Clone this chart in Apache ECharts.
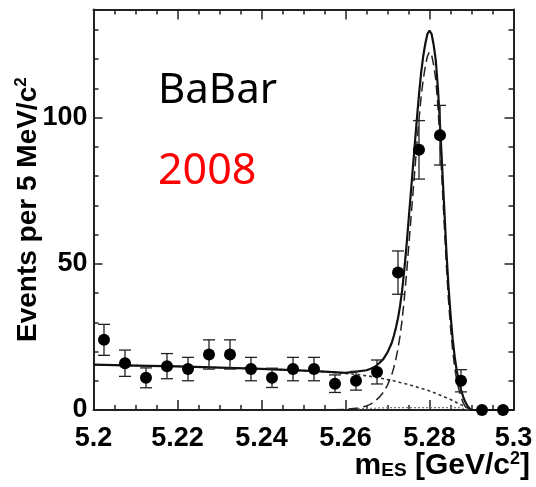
<!DOCTYPE html>
<html>
<head>
<meta charset="utf-8">
<script src="https://cdn.jsdelivr.net/npm/echarts@6/dist/echarts.min.js"></script>
<style>
html,body{margin:0;padding:0;background:#fff;}
#chart{width:536px;height:487px;}
</style>
</head>
<body>
<div id="chart"></div>
<script>
// ---- data ----
const binCenters = [5.2025, 5.2075, 5.2125, 5.2175, 5.2225, 5.2275, 5.2325, 5.2375, 5.2425, 5.2475,
                    5.2525, 5.2575, 5.2625, 5.2675, 5.2725, 5.2775, 5.2825, 5.2875, 5.2925, 5.2975];
const events = [24, 16, 11, 15, 14, 19, 19, 14, 11, 14, 14, 9, 10, 13, 47, 89, 94, 10, 0, 0];
const errors = [5.3, 4.5, 3.4, 4.3, 4, 5, 5, 4, 3.3, 4, 4, 3, 3.2, 4.1, 7.4, 10, 10.2, 3.8, 0, 0];

const fitX = [5.2, 5.21, 5.22, 5.23, 5.24, 5.25, 5.255, 5.26, 5.263, 5.265, 5.266, 5.267, 5.268, 5.269, 5.27,
              5.271, 5.2715, 5.272, 5.2725, 5.273, 5.2735, 5.274, 5.2745, 5.275, 5.2755, 5.276, 5.2765, 5.277,
              5.2775, 5.278, 5.2785, 5.279, 5.2795, 5.28, 5.2805, 5.281, 5.2815, 5.282, 5.2825, 5.283, 5.2835,
              5.284, 5.2845, 5.285, 5.2855, 5.286, 5.2865, 5.287, 5.2875, 5.288, 5.2885, 5.289, 5.2895, 5.29, 5.3];
const signalY = [0, 0, 0, 0, 0, 0, 0, 0.2, 0.7, 1.4, 2, 3, 4.3, 6, 8.5,
                 12, 14.5, 17.5, 21, 25.5, 31, 38, 46, 55, 64, 73, 82, 91,
                 99.5, 107, 113, 117.5, 121, 122.5, 121.5, 118, 113, 104, 92, 78, 64,
                 50, 38, 28.5, 20.5, 14.5, 10, 7, 4.5, 2.5, 1.2, 0.5, 0.2, 0, 0];
const backgroundY = [15.5, 15.2, 14.9, 14.5, 14.1, 13.5, 13.1, 12.5, 12.1, 11.7, 11.5, 11.2, 11, 10.7, 10.4,
                     10.1, 10, 9.8, 9.6, 9.4, 9.3, 9.1, 8.9, 8.7, 8.5, 8.3, 8.1, 7.9,
                     7.6, 7.4, 7.2, 7, 6.8, 6.5, 6.3, 6, 5.7, 5.4, 5.1, 4.8, 4.5,
                     4.2, 3.9, 3.6, 3.2, 2.9, 2.5, 2.2, 1.8, 1.5, 1.1, 0.7, 0.3, 0, 0];
const peakingY = [0, 0, 0, 0, 0, 0, 0, 0, 0.4, 0.5, 0.6, 0.6, 0.7, 0.7, 0.8,
                  0.8, 0.8, 0.8, 0.8, 0.8, 0.8, 0.8, 0.8, 0.8, 0.8, 0.8, 0.8, 0.8,
                  0.8, 0.8, 0.8, 0.8, 0.8, 0.8, 0.8, 0.8, 0.8, 0.8, 0.8, 0.8, 0.8,
                  0.8, 0.8, 0.8, 0.8, 0.8, 0.8, 0.8, 0.7, 0.6, 0.5, 0.3, 0.1, 0, 0];
const xTickLabels = ['5.2', '5.22', '5.24', '5.26', '5.28', '5.3'];
const yTickLabels = ['0', '50', '100'];

// ---- build series data ----
const pts = binCenters.map((x, i) => [x, events[i], errors[i]]);
const sigData = fitX.map((x, i) => [x, signalY[i]]);
const bkgData = fitX.map((x, i) => [x, backgroundY[i]]);
const pkData = fitX.map((x, i) => [x, peakingY[i]]).filter(d => d[1] > 0);
const totData = fitX.map((x, i) => [x, signalY[i] + backgroundY[i] + peakingY[i]]);

const AX = '#222';
const tickFont = {fontFamily: 'Liberation Sans', fontWeight: 'bold', fontSize: 27, color: '#000'};

const chart = echarts.init(document.getElementById('chart'), null, {renderer: 'canvas'});
chart.setOption({
  animation: false,
  backgroundColor: '#fff',
  grid: {left: 93.5, right: 22.5, top: 9.5, bottom: 77, containLabel: false},
  xAxis: [{
    type: 'value', min: 5.2, max: 5.3, interval: 0.02, position: 'bottom',
    axisLine: {show: true, onZero: false, lineStyle: {color: AX, width: 2}},
    axisTick: {show: true, inside: true, length: 10, lineStyle: {color: AX, width: 1.5}},
    minorTick: {show: true, splitNumber: 4, length: 5, lineStyle: {color: AX, width: 1.5}},
    splitLine: {show: false},
    axisLabel: Object.assign({margin: 15, formatter: v => {
      const s = (+v).toFixed(2).replace(/0+$/, '').replace(/\.$/, '');
      return xTickLabels.indexOf(s) >= 0 ? s : '';
    }}, tickFont)
  }, {
    type: 'value', min: 5.2, max: 5.3, interval: 0.02, position: 'top',
    axisLine: {show: true, onZero: false, lineStyle: {color: AX, width: 2}},
    axisTick: {show: true, inside: true, length: 10, lineStyle: {color: AX, width: 1.5}},
    minorTick: {show: true, splitNumber: 4, length: 5, lineStyle: {color: AX, width: 1.5}},
    splitLine: {show: false}, axisLabel: {show: false}
  }],
  yAxis: [{
    type: 'value', min: 0, max: 137, interval: 50, position: 'left',
    axisLine: {show: true, onZero: false, lineStyle: {color: AX, width: 2}},
    axisTick: {show: true, inside: true, length: 9, lineStyle: {color: AX, width: 1.5}},
    minorTick: {show: true, splitNumber: 5, length: 5, lineStyle: {color: AX, width: 1.5}},
    splitLine: {show: false},
    axisLabel: Object.assign({margin: 6, showMaxLabel: false, formatter: v => {
      const s = String(Math.round(v));
      return yTickLabels.indexOf(s) >= 0 && Math.abs(v - Math.round(v)) < 1e-6 ? s : '';
    }}, tickFont)
  }, {
    type: 'value', min: 0, max: 137, interval: 50, position: 'right',
    axisLine: {show: true, onZero: false, lineStyle: {color: AX, width: 2}},
    axisTick: {show: true, inside: true, length: 9, lineStyle: {color: AX, width: 1.5}},
    minorTick: {show: true, splitNumber: 5, length: 5, lineStyle: {color: AX, width: 1.5}},
    splitLine: {show: false}, axisLabel: {show: false}
  }],
  series: [
    {type: 'line', name: 'background', data: bkgData, showSymbol: false, symbol: 'none',
     lineStyle: {color: '#333', width: 1.6, type: [3, 3]}, z: 2},
    {type: 'line', name: 'peaking', data: pkData, showSymbol: false, symbol: 'none',
     lineStyle: {color: '#777', width: 1.2, type: [2, 2]}, z: 2},
    {type: 'line', name: 'signal', data: sigData, showSymbol: false, symbol: 'none',
     lineStyle: {color: '#222', width: 1.5, type: [10, 5]}, z: 3},
    {type: 'line', name: 'total', data: totData, showSymbol: false, symbol: 'none',
     lineStyle: {color: '#111', width: 2.2}, z: 4},
    {type: 'custom', name: 'errors', data: pts, z: 5,
     renderItem: (params, api) => {
       const x = api.value(0), y = api.value(1), e = api.value(2);
       if (!e) return null;
       const t = api.coord([x, y + e]), b = api.coord([x, y - e]);
       const hw = 6, st = {stroke: '#222', lineWidth: 1.3};
       return {type: 'group', children: [
         {type: 'line', shape: {x1: t[0], y1: t[1], x2: b[0], y2: b[1]}, style: st},
         {type: 'line', shape: {x1: t[0] - hw, y1: t[1], x2: t[0] + hw, y2: t[1]}, style: st},
         {type: 'line', shape: {x1: b[0] - hw, y1: b[1], x2: b[0] + hw, y2: b[1]}, style: st}
       ]};
     }},
    {type: 'scatter', name: 'data', data: pts.map(p => [p[0], p[1]]), symbol: 'circle', symbolSize: 12,
     itemStyle: {color: '#000', opacity: 1}, clip: false, z: 6}
  ],
  graphic: [
    {type: 'text', x: 28, y: 342, rotation: Math.PI / 2,
     style: {text: 'Events per 5 MeV/c{sup|2}', fontFamily: 'Liberation Sans', fontWeight: 'bold', fontSize: 28,
             fill: '#000', textAlign: 'left', textVerticalAlign: 'middle',
             rich: {sup: {fontSize: 17, fontFamily: 'Liberation Sans', fontWeight: 'bold', padding: [0, 0, 13, 0]}}}},
    {type: 'text', right: 6, top: 450,
     style: {text: 'm{sub|ES} [GeV/c{sup|2}]', fontFamily: 'Liberation Sans', fontWeight: 'bold', fontSize: 30,
             fill: '#000',
             rich: {sub: {fontSize: 19, fontFamily: 'Liberation Sans', fontWeight: 'bold', padding: [10, 0, 0, 0]},
                    sup: {fontSize: 18, fontFamily: 'Liberation Sans', fontWeight: 'bold', padding: [0, 0, 14, 0]}}}},
    {type: 'text', x: 158, y: 91, style: {text: 'BaBar', fontFamily: 'Noto Sans', fontSize: 42, fill: '#000',
     textAlign: 'left', textVerticalAlign: 'middle'}},
    {type: 'text', x: 158, y: 172, style: {text: '2008', fontFamily: 'Noto Sans', fontSize: 43, fill: '#ff0000',
     textAlign: 'left', textVerticalAlign: 'middle'}}
  ]
});
</script>
</body>
</html>
